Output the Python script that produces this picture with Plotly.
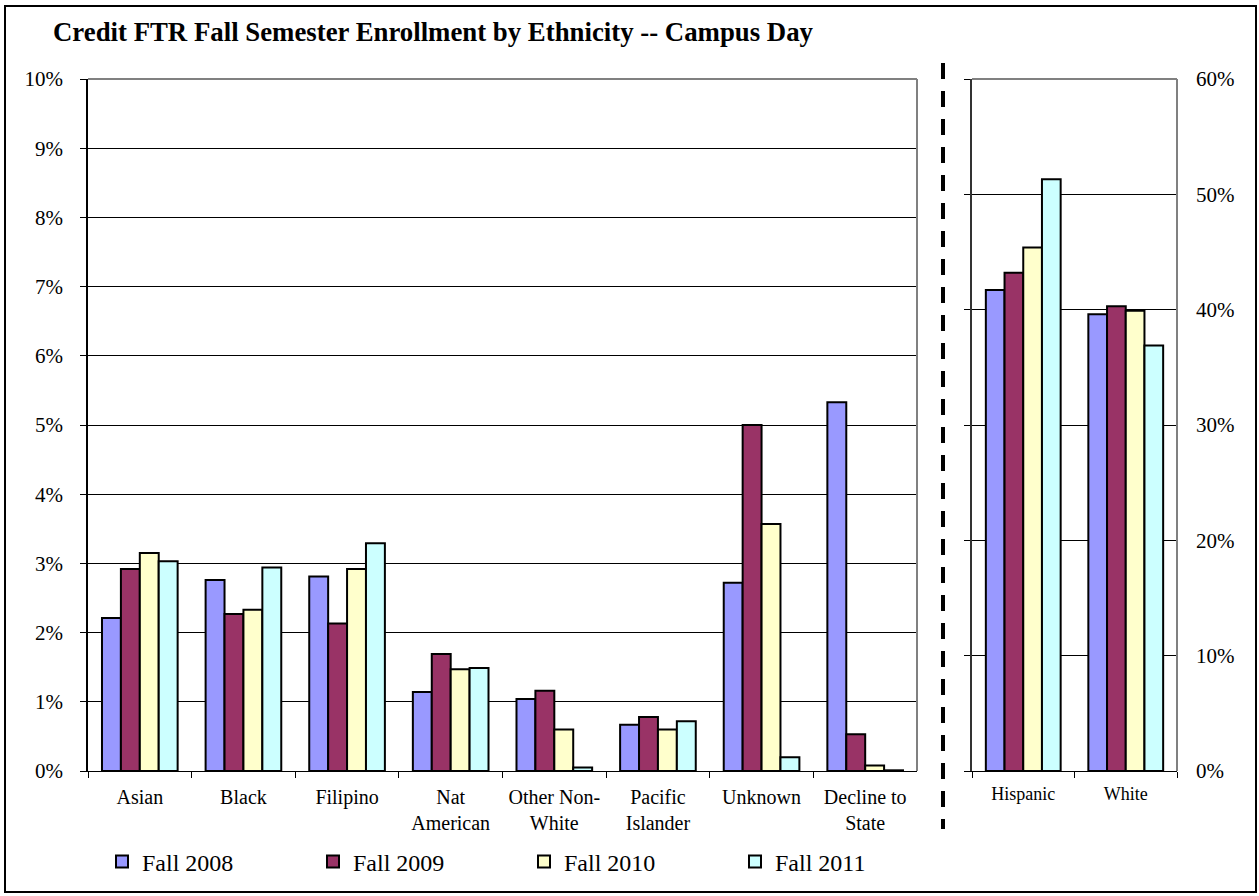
import plotly.graph_objects as go

W, H = 1259, 896

# ---------------- data ----------------
categories_left = ["Asian", "Black", "Filipino", "Nat<br>American", "Other Non-<br>White",
                   "Pacific<br>Islander", "Unknown", "Decline to<br>State"]
categories_right = ["Hispanic", "White"]
series_names = ["Fall 2008", "Fall 2009", "Fall 2010", "Fall 2011"]

fall2008_left = [2.21, 2.76, 2.81, 1.14, 1.04, 0.67, 2.72, 5.33]
fall2009_left = [2.92, 2.27, 2.13, 1.69, 1.16, 0.78, 5.00, 0.53]
fall2010_left = [3.15, 2.33, 2.92, 1.47, 0.60, 0.60, 3.57, 0.08]
fall2011_left = [3.03, 2.94, 3.29, 1.49, 0.05, 0.72, 0.20, 0.01]

fall2008_right = [41.7, 39.6]
fall2009_right = [43.2, 40.3]
fall2010_right = [45.4, 39.9]
fall2011_right = [51.3, 36.9]

left_ticks = [0, 1, 2, 3, 4, 5, 6, 7, 8, 9, 10]
left_tick_labels = ["0%", "1%", "2%", "3%", "4%", "5%", "6%", "7%", "8%", "9%", "10%"]
right_ticks = [0, 10, 20, 30, 40, 50, 60]
right_tick_labels = ["0%", "10%", "20%", "30%", "40%", "50%", "60%"]

colors = ["#9999FF", "#993366", "#FFFFCC", "#CCFFFF"]
left_series = [fall2008_left, fall2009_left, fall2010_left, fall2011_left]
right_series = [fall2008_right, fall2009_right, fall2010_right, fall2011_right]

SERIF = "Liberation Serif"


def px_x(p):
    return p / W


def px_y(p):
    return 1 - p / H


fig = go.Figure()

for name, col, vals in zip(series_names, colors, left_series):
    fig.add_trace(go.Bar(
        x=categories_left, y=vals, name=name, legendgroup=name,
        marker=dict(color=col, line=dict(color="black", width=2)),
        xaxis="x", yaxis="y",
    ))
for name, col, vals in zip(series_names, colors, right_series):
    fig.add_trace(go.Bar(
        x=categories_right, y=vals, name=name, legendgroup=name, showlegend=False,
        marker=dict(color=col, line=dict(color="black", width=2)),
        xaxis="x2", yaxis="y2",
    ))

# invisible trace so the right-hand label axis is drawn
fig.add_trace(go.Scatter(x=[categories_right[0]], y=[0], xaxis="x2", yaxis="y3",
                         mode="markers", marker=dict(opacity=0), showlegend=False,
                         hoverinfo="skip"))

y_dom = [px_y(771), px_y(79)]

fig.update_layout(
    width=W, height=H,
    margin=dict(l=0, r=0, t=0, b=0, pad=0, autoexpand=False),
    paper_bgcolor="white", plot_bgcolor="white",
    barmode="group", bargap=0.27, bargroupgap=0,
    font=dict(family=SERIF, color="black"),
    title=dict(text="<b>Credit FTR Fall Semester Enrollment by Ethnicity -- Campus Day</b>",
               x=px_x(53), xanchor="left", y=px_y(32), yanchor="middle",
               font=dict(family=SERIF, size=26.8, color="black")),
    xaxis=dict(domain=[px_x(88), px_x(917)], anchor="y", type="category",
               showline=True, linecolor="black", linewidth=1,
               ticks="outside", tickson="boundaries", ticklen=6, tickcolor="black",
               showgrid=False, tickfont=dict(size=20, family=SERIF),
               ticklabelstandoff=8, automargin=False),
    yaxis=dict(domain=y_dom, anchor="x", range=[0, 10],
               tickmode="array", tickvals=left_ticks, ticktext=left_tick_labels,
               showline=True, linecolor="black", linewidth=1.5,
               ticks="outside", ticklen=6, tickcolor="black",
               showgrid=True, gridcolor="black", gridwidth=1, zeroline=False,
               tickfont=dict(size=21, family=SERIF), ticklabelstandoff=13,
               automargin=False),
    xaxis2=dict(domain=[px_x(972), px_x(1177)], anchor="y2", type="category",
                showline=True, linecolor="black", linewidth=1,
                ticks="outside", tickson="boundaries", ticklen=6, tickcolor="black",
                showgrid=False, tickfont=dict(size=18, family=SERIF),
                ticklabelstandoff=6, automargin=False),
    yaxis2=dict(domain=y_dom, anchor="x2", range=[0, 60],
                tickmode="array", tickvals=right_ticks, showticklabels=False,
                showline=True, linecolor="#333333", linewidth=1.5,
                ticks="outside", ticklen=6, tickcolor="black",
                showgrid=True, gridcolor="black", gridwidth=1, zeroline=False,
                automargin=False),
    yaxis3=dict(overlaying="y2", anchor="x2", side="right", range=[0, 60],
                tickmode="array", tickvals=right_ticks, ticktext=right_tick_labels,
                showgrid=False, showline=False, ticks="", zeroline=False,
                tickfont=dict(size=21, family=SERIF), ticklabelstandoff=18,
                automargin=False),
    legend=dict(orientation="h", x=px_x(102), xanchor="left", y=px_y(862), yanchor="middle",
                font=dict(size=24, family=SERIF, color="black"),
                entrywidth=166, entrywidthmode="pixels",
                bgcolor="rgba(0,0,0,0)", traceorder="normal"),
    showlegend=True,
)

shapes = [
    # gray top/right borders of the left plot
    dict(type="line", xref="x domain", yref="y domain", x0=0, x1=1, y0=1, y1=1,
         line=dict(color="#808080", width=2)),
    dict(type="line", xref="x domain", yref="y domain", x0=1, x1=1, y0=0, y1=1,
         line=dict(color="#808080", width=2)),
    # gray top/right borders of the right plot
    dict(type="line", xref="x2 domain", yref="y2 domain", x0=0, x1=1, y0=1, y1=1,
         line=dict(color="#808080", width=2)),
    dict(type="line", xref="x2 domain", yref="y2 domain", x0=1, x1=1, y0=0, y1=1,
         line=dict(color="#808080", width=2)),
    # dashed divider
    dict(type="line", xref="paper", yref="paper", x0=px_x(943), x1=px_x(943),
         y0=px_y(63), y1=px_y(829), line=dict(color="black", width=4, dash="16px,12px")),
    # outer frame
    dict(type="rect", xref="paper", yref="paper", x0=px_x(5), x1=px_x(1256),
         y0=px_y(892), y1=px_y(6), line=dict(color="black", width=2)),
]
fig.update_layout(shapes=shapes)

fig.write_html(
    "out.html",
    config={"displayModeBar": False},
    post_script="document.body.style.margin='0';document.body.style.padding='0';"
                "document.documentElement.style.overflow='hidden';",
)
